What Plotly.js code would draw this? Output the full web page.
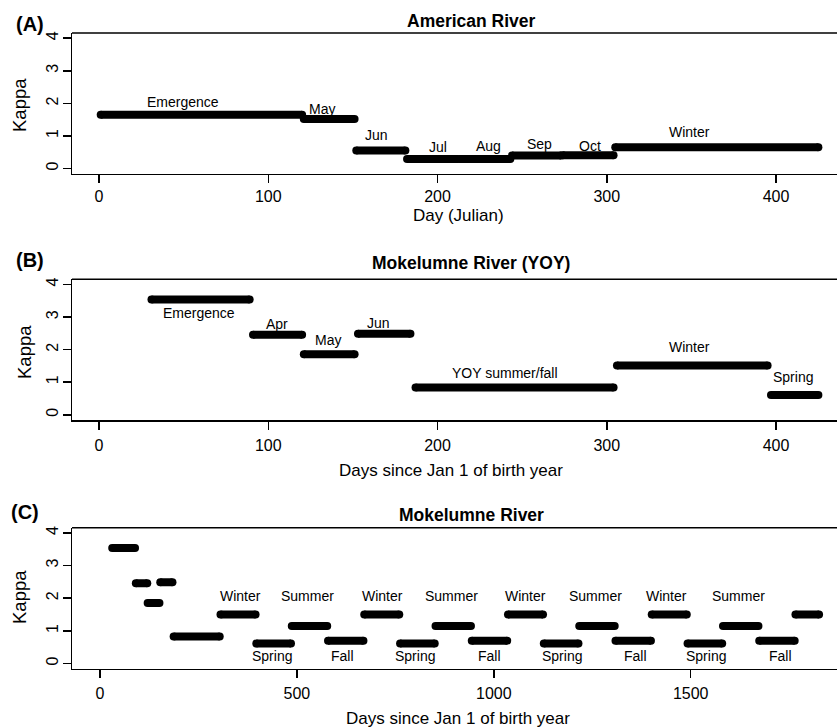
<!DOCTYPE html>
<html>
<head>
<meta charset="utf-8">
<script src="https://cdn.plot.ly/plotly-3.0.1.min.js"></script>
<style>html,body{margin:0;padding:0;background:#fff;}#chart{width:837px;height:727px;}</style>
</head>
<body>
<div id="chart"></div>
<script>
// ---------- Panel A: American River ----------
const aStart  = [1, 121, 152, 182, 213, 244, 274, 305];
const aEnd    = [120, 151, 181, 212, 243, 273, 304, 425];
const aKappa  = [1.65, 1.52, 0.55, 0.29, 0.29, 0.40, 0.41, 0.65];
const aLabels = ['Emergence', 'May', 'Jun', 'Jul', 'Aug', 'Sep', 'Oct', 'Winter'];
const aLabelX = [49.5, 132, 164, 200, 230, 260, 290, 349];
const aLabelY = [2.03, 1.82, 1.03, 0.67, 0.70, 0.76, 0.70, 1.11];

// ---------- Panel B: Mokelumne River (YOY) ----------
const bStart  = [31, 91, 121, 153, 187, 306, 397];
const bEnd    = [89, 120, 151, 184, 304, 395, 425];
const bKappa  = [3.54, 2.46, 1.86, 2.49, 0.84, 1.51, 0.61];
const bLabels = ['Emergence', 'Apr', 'May', 'Jun', 'YOY summer/fall', 'Winter', 'Spring'];
const bLabelX = [59, 105, 135, 165, 240, 349, 410];
const bLabelY = [3.14, 2.80, 2.31, 2.82, 1.27, 2.09, 1.15];

// ---------- Panel C: Mokelumne River ----------
const cStart  = [31, 91, 121, 153, 187, 306, 397, 487, 579, 671, 762, 852, 944, 1036, 1127, 1217, 1309, 1401, 1492, 1582, 1674, 1766];
const cEnd    = [89, 120, 151, 184, 304, 395, 485, 577, 669, 760, 850, 942, 1034, 1125, 1215, 1307, 1399, 1490, 1580, 1672, 1764, 1826];
const cKappa  = [3.54, 2.46, 1.85, 2.49, 0.83, 1.50, 0.61, 1.15, 0.70, 1.50, 0.61, 1.15, 0.70, 1.50, 0.61, 1.15, 0.70, 1.50, 0.61, 1.15, 0.70, 1.50];
const cLabels = ['Winter', 'Summer', 'Winter', 'Summer', 'Winter', 'Summer', 'Winter', 'Summer',
                 'Spring', 'Fall', 'Spring', 'Fall', 'Spring', 'Fall', 'Spring', 'Fall'];
const cLabelX = [356, 527, 717, 893, 1080, 1259, 1439, 1621,
                 436, 615, 800, 988, 1174, 1359, 1539, 1727];
const cLabelY = [2.06, 2.06, 2.06, 2.06, 2.06, 2.06, 2.06, 2.06,
                 0.22, 0.22, 0.22, 0.22, 0.22, 0.22, 0.22, 0.22];

const yTicks = [0, 1, 2, 3, 4];
const abTicks = [0, 100, 200, 300, 400];
const cTicks = [0, 500, 1000, 1500];

// ---------- layout helpers ----------
const W = 837, H = 727;
const FONT = 'Liberation Sans, Arial, Helvetica, sans-serif';
const BAR_W = 8;

function segTrace(starts, ends, vals, xa, ya) {
  const x = [], y = [];
  for (let i = 0; i < starts.length; i++) {
    x.push(starts[i], ends[i], null);
    y.push(vals[i], vals[i], null);
  }
  return {
    type: 'scatter', mode: 'lines+markers', x: x, y: y, xaxis: xa, yaxis: ya,
    connectgaps: false, hoverinfo: 'skip', showlegend: false,
    line: {color: '#000', width: BAR_W},
    marker: {color: '#000', size: BAR_W, line: {width: 0}}
  };
}

function px2paperY(py) { return 1 - py / H; }
function px2paperX(px) { return px / W; }

function xAxis(domain, range, ticks, anchor, standoff) {
  return {
    domain: domain, range: range, anchor: anchor,
    tickmode: 'array', tickvals: ticks, ticktext: ticks.map(String),
    showline: true, linecolor: '#000', linewidth: 1.5,
    ticks: 'outside', ticklen: 8, tickwidth: 1.5, tickcolor: '#000',
    showgrid: false, zeroline: false, fixedrange: true,
    tickfont: {family: FONT, size: 16, color: '#000'},
    ticklabelstandoff: standoff
  };
}
function yAxis(domain, anchor) {
  return {
    domain: domain, range: [-0.16, 4.16], anchor: anchor,
    tickmode: 'array', tickvals: yTicks, ticktext: yTicks.map(String),
    showline: true, linecolor: '#000', linewidth: 1.5,
    ticks: 'outside', ticklen: 8, tickwidth: 1.5, tickcolor: '#000',
    showgrid: false, zeroline: false, fixedrange: true,
    tickangle: -90,
    tickfont: {family: FONT, size: 16, color: '#000'},
    ticklabelstandoff: -2
  };
}

const xDom = [px2paperX(72), 1];
const yDomA = [px2paperY(173.7), px2paperY(33)];
const yDomB = [px2paperY(420), px2paperY(279.3)];
const yDomC = [px2paperY(668.7), px2paperY(527.7)];

const data = [
  segTrace(aStart, aEnd, aKappa, 'x', 'y'),
  segTrace(bStart, bEnd, bKappa, 'x2', 'y2'),
  segTrace(cStart, cEnd, cKappa, 'x3', 'y3')
];

const annotations = [];
function addLabels(labels, xs, ys, xr, yr) {
  labels.forEach((t, i) => annotations.push({
    text: t, x: xs[i], y: ys[i], xref: xr, yref: yr, showarrow: false,
    xanchor: 'center', yanchor: 'middle',
    font: {family: FONT, size: 14, color: '#000'}
  }));
}
addLabels(aLabels, aLabelX, aLabelY, 'x', 'y');
addLabels(bLabels, bLabelX, bLabelY, 'x2', 'y2');
addLabels(cLabels, cLabelX, cLabelY, 'x3', 'y3');

function paperText(text, px, py, size, bold, angle) {
  annotations.push({
    text: bold ? '<b>' + text + '</b>' : text,
    x: px2paperX(px), y: px2paperY(py), xref: 'paper', yref: 'paper',
    showarrow: false, xanchor: 'center', yanchor: 'middle',
    textangle: angle || 0,
    font: {family: FONT, size: size, color: '#000'}
  });
}
// panel letters
paperText('(A)', 30, 24, 20, true);
paperText('(B)', 30, 260, 20, true);
paperText('(C)', 25, 512, 20, true);
// panel titles
paperText('American River', 471, 21, 17.5, true);
paperText('Mokelumne River (YOY)', 471, 263, 17.5, true);
paperText('Mokelumne River', 471, 515, 17.5, true);
// axis titles
paperText('Day (Julian)', 458, 216, 17, false);
paperText('Days since Jan 1 of birth year', 451, 470, 17, false);
paperText('Days since Jan 1 of birth year', 458, 718, 17, false);
paperText('Kappa', 20, 105, 18.5, false, -90);
paperText('Kappa', 24, 352, 18.5, false, -90);
paperText('Kappa', 19, 597, 18.5, false, -90);

// top border of each box
const shapes = ['', '2', '3'].map(s => ({
  type: 'line', xref: 'x' + s + ' domain', yref: 'y' + s + ' domain',
  x0: 0, x1: 1, y0: 1, y1: 1, line: {color: '#000', width: 1.5}
}));

const layout = {
  width: W, height: H,
  margin: {l: 0, r: 0, t: 0, b: 0},
  paper_bgcolor: '#fff', plot_bgcolor: '#fff',
  showlegend: false,
  xaxis:  xAxis(xDom, [-15.95, 436.0], abTicks, 'y', 0),
  yaxis:  yAxis(yDomA, 'x'),
  xaxis2: xAxis(xDom, [-15.95, 436.0], abTicks, 'y2', 2),
  yaxis2: yAxis(yDomB, 'x2'),
  xaxis3: xAxis(xDom, [-71.1, 1871.5], cTicks, 'y3', 2),
  yaxis3: yAxis(yDomC, 'x3'),
  annotations: annotations,
  shapes: shapes
};

Plotly.newPlot('chart', data, layout, {displayModeBar: false, staticPlot: true});
</script>
</body>
</html>
